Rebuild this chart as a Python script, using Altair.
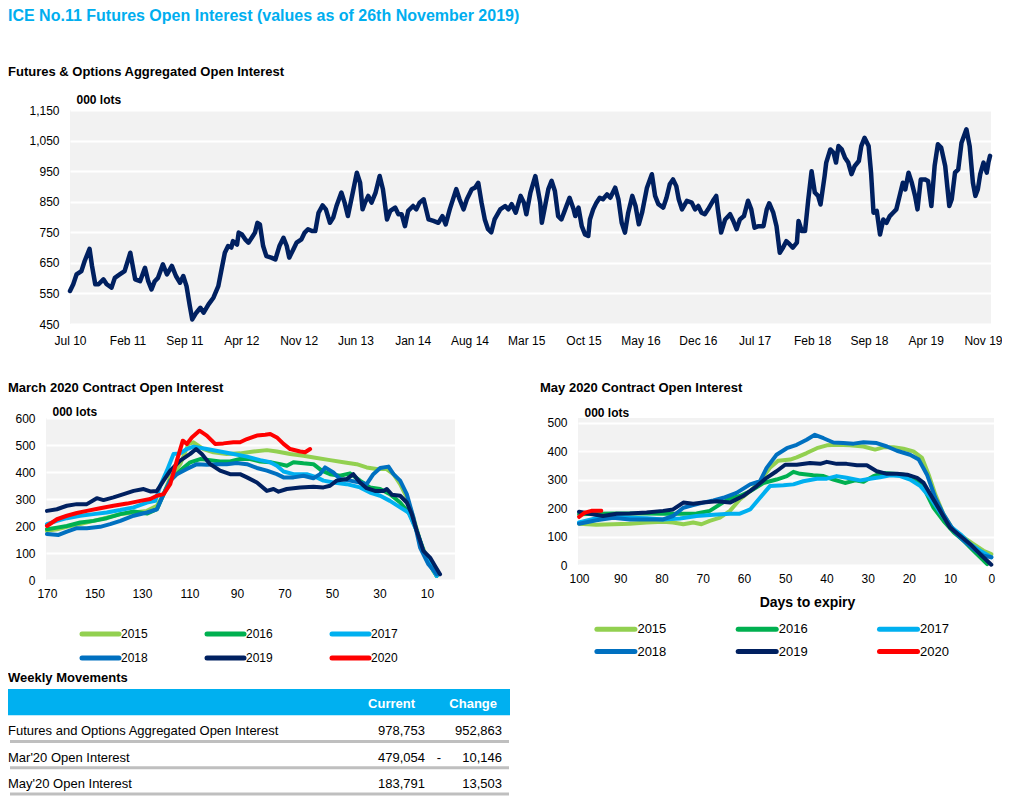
import altair as alt
import pandas as pd

FONT = "Liberation Sans"

# ---------------- Futures & Options aggregated open interest (000 lots)
# x = months since 1 Jul 2010, y = open interest
agg_month = [0.0,0.4,0.8,1.4,1.8,2.4,2.7,3.1,3.5,4.1,4.5,5.1,5.5,6.1,6.7,7.4,8.0,8.6,9.2,9.6,
             10.0,10.4,10.8,11.4,11.9,12.5,13.0,13.5,13.9,14.3,14.7,15.0,15.5,16.0,16.4,17.0,17.6,18.2,18.6,19.0,
             19.4,19.8,20.0,20.5,20.7,21.1,21.5,21.9,22.3,22.7,23.0,23.3,23.7,24.1,24.7,25.2,25.7,26.2,26.6,26.9,
             27.4,27.8,28.4,28.8,29.2,29.7,30.1,30.5,31.0,31.4,31.9,32.3,32.7,33.3,33.7,34.1,34.7,35.2,35.6,35.9,
             36.2,36.6,37.0,37.5,38.0,38.4,38.9,39.3,39.9,40.3,40.7,41.1,41.5,42.1,42.5,42.9,43.4,44.0,44.6,45.2,
             45.7,46.1,46.6,47.4,47.8,48.3,48.7,49.3,49.7,50.1,50.5,50.9,51.3,51.7,52.1,52.8,53.4,53.8,54.2,54.7,
             55.3,55.7,56.0,56.5,57.1,57.4,57.7,57.9,58.3,58.7,59.1,59.5,59.9,60.3,60.7,61.3,61.8,62.0,62.4,62.8,
             63.2,63.6,63.8,64.2,64.6,65.0,65.4,65.9,66.3,66.9,67.3,67.7,68.1,68.5,69.0,69.4,69.8,70.2,70.8,71.4,
             71.8,72.2,72.8,73.2,73.6,74.0,74.4,74.7,75.1,75.7,76.3,76.7,77.1,77.5,77.9,78.3,78.9,79.3,79.5,79.9,
             80.4,81.0,81.4,81.8,82.2,82.7,83.2,83.6,84.0,84.5,85.1,85.5,85.8,86.3,86.7,87.1,87.5,87.9,88.3,88.7,
             89.2,89.4,89.8,90.2,90.6,91.0,91.4,91.8,92.1,92.6,92.8,93.3,93.7,94.0,94.3,94.7,95.1,95.5,95.9,96.3,
             96.8,97.1,97.5,98.0,98.3,98.6,99.0,99.4,99.8,100.2,100.6,101.0,101.4,101.8,102.2,102.5,102.9,103.3,103.7,104.0,
             104.4,104.9,105.3,105.7,106.1,106.5,106.9,107.4,107.9,108.2,108.6,109.0,109.4,110.0,110.4,110.8,111.1,111.4,111.7,112.1,
             112.5,112.7,112.9]
agg_value = [558,580,612,623,656,696,640,580,580,596,580,569,601,612,623,683,596,590,634,590,
             563,590,601,645,612,640,607,585,607,574,509,465,487,503,487,514,536,574,629,683,
             705,700,721,710,749,743,727,716,732,749,781,776,705,672,667,661,705,732,705,667,
             694,716,727,749,760,754,754,814,838,825,781,798,836,880,847,803,880,945,912,825,
             847,869,847,880,934,891,792,820,831,809,809,770,820,836,825,847,858,792,787,781,
             803,776,825,891,858,825,858,891,896,912,847,792,760,750,792,825,836,825,842,814,
             869,847,809,880,934,891,847,781,836,891,918,885,803,792,820,863,825,803,831,770,
             743,738,792,825,847,863,858,874,863,896,858,781,749,814,869,836,776,814,896,940,
             869,842,831,863,907,923,901,858,825,853,847,825,836,814,809,825,853,869,825,749,
             792,809,787,760,792,803,853,825,765,770,770,825,845,814,770,683,700,721,711,700,
             716,787,754,754,858,950,880,869,841,934,978,1021,1010,978,1032,1021,994,978,940,967,
             983,1032,1059,1032,945,814,820,743,792,781,803,814,825,869,912,890,945,912,869,825,
             923,923,918,836,967,1038,1027,967,836,858,945,956,1043,1087,1032,912,869,890,940,978,
             945,978,1000]
agg_tick_months = [(2010, 7), (2011, 2), (2011, 9), (2012, 4), (2012, 11), (2013, 6), (2014, 1),
                   (2014, 8), (2015, 3), (2015, 10), (2016, 5), (2016, 12), (2017, 7), (2018, 2),
                   (2018, 9), (2019, 4), (2019, 11)]
agg_y_ticks = [450, 550, 650, 750, 850, 950, 1050, 1150]

# ---------------- contract open interest by year (000 lots) vs days to expiry
years = ["2015", "2016", "2017", "2018", "2019", "2020"]
year_colors = ["#92D050", "#00B050", "#00B0F0", "#0070C0", "#002060", "#FF0000"]

mar_days = {
    "2015": [170,165.8,161.6,156,150.4,144.8,139.1,133.5,127.9,123.7,120.9,118.1,113.9,110.4,108.3,104.1,99.9,94.3,88.7,83,
             77.4,73.2,67.6,62,56.4,50.8,45.2,39.6,35.4,31.2,27,24.1,21.3,18.5,15.7,12.9,10.1,7.3,5.9],
    "2016": [170,165.8,161.6,156,150.4,144.8,139.1,133.5,127.9,123.7,120.9,118.1,113.9,109.7,105.5,101.3,97.1,92.9,88.7,84.5,
             80.2,76,71.8,69,66.2,62,57.8,54.3,50.8,46.6,42.4,38.2,34,29.7,25.6,21.3,17.2,14.3,11.5,8.7,5.9],
    "2017": [170,165.8,161.6,156,150.4,144.8,139.1,133.5,127.9,124.4,122.3,119.5,116.7,113.9,111.1,108.3,102.7,97.1,91.5,85.8,
             80.2,76,73.2,70.4,66.2,60.6,56.4,53.6,49.4,43.8,38.2,34,29.7,25.6,21.3,17.8,14.3,11.5,8.7,5.9],
    "2018": [170,165.1,161.6,157.4,153.2,147.6,143.4,139.1,133.5,127.9,123.7,120.9,118.1,115.3,111.1,106.9,102.7,98.5,94.3,90.1,
             85.8,81.6,77.4,73.2,70.4,66.2,62,57.8,55,52.9,49.4,46.6,42.4,38.2,35.4,32.6,29.7,26.2,24.1,21.3,
             18.5,15.7,12.9,9.4,5.9],
    "2019": [170,165.8,161.6,157.4,153.2,149,146.2,142,137.7,133.5,129.3,126.5,123.7,120.9,118.1,113.9,109.7,107.2,104.8,101.3,
             97.1,92.9,88.7,85.8,81.6,77.4,74.6,72.5,69,63.4,57.8,53.6,50.8,48,43.8,41,38.2,35.4,31.9,28.3,
             26.9,24.8,21.3,18.5,16.4,14.3,11.5,8.7,6.6,4.5],
    "2020": [170,165.8,161.6,157.4,153.2,147.6,142,136.3,130.7,126.5,123.7,120.9,118.1,115.3,112.8,111.1,109,105.8,102.7,99.2,
             95.7,91.5,88.7,85.8,81.6,78.1,76,73.2,70.4,67.6,63.4,61.3,59.2],
}
mar_oi = {
    "2015": [182,188,197,207,219,231,244,250,256,275,318,380,429,504,510,485,473,467,469,476,
             481,476,467,460,452,444,436,429,417,411,411,392,355,306,231,145,83,33,15],
    "2016": [188,194,200,213,219,229,244,254,246,262,318,368,405,436,448,444,439,439,448,448,
             439,436,429,423,436,432,429,405,392,386,395,368,343,337,318,287,244,182,108,58,15],
    "2017": [207,219,229,238,244,250,259,269,287,293,349,405,467,469,485,494,485,476,467,457,
             444,436,423,402,392,392,380,368,361,355,343,324,312,293,269,250,182,108,58,15],
    "2018": [170,167,179,192,192,197,207,219,238,250,262,318,368,392,411,429,427,429,429,433,
             429,415,405,392,380,380,386,377,392,417,398,374,368,361,355,392,415,420,392,368,
             318,231,120,58,21],
    "2019": [256,262,275,281,281,303,296,306,318,330,337,328,330,368,405,442,467,485,467,429,
             405,392,392,380,361,330,337,327,337,343,345,343,349,368,374,392,361,340,330,330,
             337,316,312,287,244,182,108,83,52,21],
    "2020": [200,225,238,248,256,266,275,283,293,300,312,318,355,442,516,504,528,553,535,504,
             506,510,510,522,535,538,541,528,504,485,476,473,485],
}
may_days = {
    "2015": [100,95.8,91.7,87.7,83.6,79.6,77.2,74.7,72.3,70.3,68.3,65.8,63.4,61,58.5,56.1,53.7,51.7,48.8,47.2,
             44.8,42.3,39.9,37.5,34.3,31,28.2,26.2,23.7,21.3,18.9,16.8,15.2,13.6,11.6,9.1,6.7,4.3,1.9,0],
    "2016": [100,95.8,91.7,87.7,83.6,79.6,75.5,71.5,68.3,65.8,63.4,61,58.5,55.3,52.1,49.6,48,46.4,43.2,40.7,
             38.3,35.5,33,31,28.6,26.2,23.7,21.3,18.9,16.4,14,11.6,9.1,6.7,4.3,1],
    "2017": [100,95.8,91.7,87.7,83.6,79.6,75.5,71.5,67.4,63.4,61,58.5,56.1,53.7,50.4,48,45.6,42.3,39.9,37.5,
             35.1,31.8,29.4,27,24.5,22.1,19.7,17.2,14.8,12.4,10,7.5,5.1,2.7,0],
    "2018": [100,95.8,91.7,87.7,83.6,79.6,77.2,74.7,72.3,69.9,67.4,65,61.8,58.5,56.1,54.5,52.1,49.6,47.2,44.8,
             42.8,40.7,38.3,35.9,33.4,31,27.8,25.3,22.9,19.7,17.6,15.6,13.6,11.6,9.1,6.7,4.3,1.9,0],
    "2019": [100,97.4,94.2,90.9,87.7,83.6,79.6,77.2,74.7,72.3,69.9,66.6,63.4,60.2,56.9,54.5,52.1,50,47.2,44,
             41.5,39.9,37.5,35.1,32.6,30.2,27.8,25.3,22.9,20.4,18,16.4,14.8,12.4,10,7.5,5.1,2.7,0],
    "2020": [100,98.6,97,94.6],
}
may_oi = {
    "2015": [145,141,143,145,149,152,149,143,149,143,155,166,190,230,259,294,341,366,370,378,
             393,410,420,422,420,416,405,413,413,408,399,376,317,248,178,120,97,73,50,38],
    "2016": [178,180,181,181,181,180,180,181,190,213,234,242,259,288,300,312,327,320,315,312,
             300,288,297,292,312,323,320,317,306,271,201,155,114,85,50,3],
    "2017": [149,164,169,166,164,160,163,172,176,180,180,195,236,277,280,283,294,303,303,312,
             306,297,303,308,315,312,300,277,236,184,137,108,73,50,27],
    "2018": [145,157,166,160,160,160,172,201,210,219,227,236,253,283,294,341,387,410,422,440,
             457,445,430,428,426,431,428,416,401,387,370,317,236,178,120,85,56,33,27],
    "2019": [187,180,172,180,181,184,190,195,219,215,219,224,219,242,277,306,329,352,352,358,
             355,362,355,355,350,350,329,320,320,317,306,288,248,190,131,102,73,38,1],
    "2020": [169,184,190,190],
}
mar_ticks = [170, 150, 130, 110, 90, 70, 50, 30, 10]
mar_y_ticks = [0, 100, 200, 300, 400, 500, 600]
may_ticks = [100, 90, 80, 70, 60, 50, 40, 30, 20, 10, 0]
may_y_ticks = [0, 100, 200, 300, 400, 500]

legend_col = [0, 1, 2, 0, 1, 2]
legend_row = [0, 0, 0, 1, 1, 1]

# ---------------- weekly movements table
tbl_rows = ["r1", "r2", "r3"]
tbl_labels = ["Futures and Options Aggregated Open Interest", "Mar'20 Open Interest", "May'20 Open Interest"]
tbl_current = ["978,753", "479,054", "183,791"]
tbl_sign = ["", "-", ""]
tbl_change = ["952,863", "10,146", "13,503"]

# ======================================================================
start = pd.Timestamp("2010-07-01")
agg_df = pd.DataFrame({
    "date": [start + pd.Timedelta(days=m * 30.4375) for m in agg_month],
    "oi": agg_value,
})

plot_view = alt.ViewBackground(fill="#F2F2F2", strokeWidth=0)
blank_view = alt.ViewBackground(fillOpacity=0, strokeWidth=0)


def spacer(w):
    return alt.Chart(pd.DataFrame({"s": [0]})).mark_point(opacity=0, size=1).encode(
        x=alt.value(w / 2), y=alt.value(0.5)).properties(width=w, height=1, view=blank_view)


def sub_title(text, dx, offset):
    return alt.TitleParams(text, anchor="start", frame="group", dx=dx, offset=offset,
                           fontSize=13, font=FONT, fontWeight="bold", color="#000000",
                           baseline="alphabetic")


def y_axis(ticks, fmt, tx, ty):
    return alt.Axis(values=ticks, format=fmt, title="000 lots", titleAngle=0, titleAlign="left",
                    titleBaseline="alphabetic", titleX=tx, titleY=ty, titleFontSize=12,
                    titleFontWeight="bold", titleFont=FONT, titleColor="#000000",
                    grid=True, gridColor="#FFFFFF", gridWidth=2, ticks=False, domain=False,
                    labelPadding=11, labelFontSize=12, labelFont=FONT, labelColor="#000000")


top = alt.Chart(agg_df, title=sub_title("Futures & Options Aggregated Open Interest", -62, 4)).mark_line(
    color="#002060", strokeWidth=4.5, strokeJoin="round", strokeCap="round"
).encode(
    x=alt.X("date:T",
            scale=alt.Scale(domain=[alt.DateTime(year=2010, month=7, date=1),
                                    alt.DateTime(year=2019, month=12, date=1)]),
            axis=alt.Axis(values=[alt.DateTime(year=y, month=m, date=1) for y, m in agg_tick_months],
                          format="%b %y", title=None, grid=False, ticks=False, domain=False,
                          labelFlush=False, labelOverlap=False, labelPadding=11, labelFontSize=12,
                          labelFont=FONT, labelColor="#000000")),
    y=alt.Y("oi:Q", scale=alt.Scale(domain=[450, 1150], nice=False, zero=False),
            axis=y_axis(agg_y_ticks, ",.0f", 6, -7)),
).properties(width=921, height=214, view=plot_view)

color_scale = alt.Scale(domain=years, range=year_colors)


def long_df(days, oi):
    rows = []
    for y in years:
        for d, v in zip(days[y], oi[y]):
            rows.append({"year": y, "days": d, "oi": v})
    return pd.DataFrame(rows)


mar_df = long_df(mar_days, mar_oi)
may_df = long_df(may_days, may_oi)

march = alt.Chart(mar_df, title=sub_title("March 2020 Contract Open Interest", -38, 0)).mark_line(
    strokeWidth=4, strokeJoin="round", strokeCap="round"
).encode(
    x=alt.X("days:Q", scale=alt.Scale(domain=[-1.8, 170.4], reverse=True, nice=False, zero=False),
            axis=alt.Axis(values=mar_ticks, title=None, grid=False, ticks=False, domain=False,
                          labelFlush=False, labelPadding=8, labelFontSize=12, labelFont=FONT,
                          labelColor="#000000")),
    y=alt.Y("oi:Q", scale=alt.Scale(domain=[0, 600], nice=False),
            axis=y_axis(mar_y_ticks, "d", 6, -3)),
    color=alt.Color("year:N", scale=color_scale, legend=None),
).properties(width=409, height=162, view=plot_view)

may = alt.Chart(may_df, title=sub_title("May 2020 Contract Open Interest", -38, 1)).mark_line(
    strokeWidth=4, strokeJoin="round", strokeCap="round"
).encode(
    x=alt.X("days:Q", scale=alt.Scale(domain=[-0.65, 100.25], reverse=True, nice=False, zero=False),
            axis=alt.Axis(values=may_ticks, title="Days to expiry", titleFontSize=14, titleFont=FONT,
                          titleFontWeight="bold", titleColor="#000000", titleX=229, titlePadding=11,
                          grid=False, ticks=False, domain=False, labelFlush=False, labelPadding=8,
                          labelFontSize=12, labelFont=FONT, labelColor="#000000")),
    y=alt.Y("oi:Q", scale=alt.Scale(domain=[0, 516], nice=False),
            axis=y_axis(may_y_ticks, "d", 6, -2)),
    color=alt.Color("year:N", scale=color_scale, legend=None),
).properties(width=416, height=147, view=plot_view)

legend_df = pd.DataFrame({"year": years, "col": legend_col, "row": legend_row})


def legend_chart(x0, step, width, row_h, sym_len, label_dx, font_size):
    lo = -x0 / step
    hi = lo + width / step
    base = alt.Chart(legend_df).encode(
        x=alt.X("col:Q", scale=alt.Scale(domain=[lo, hi], nice=False, zero=False), axis=None),
        y=alt.Y("row:Q", scale=alt.Scale(domain=[-0.5, 1.5], reverse=True, nice=False, zero=False), axis=None),
    )
    sym = base.mark_point(shape="M-1,0H1", filled=False, strokeWidth=5, size=sym_len ** 2,
                          opacity=1, strokeCap="round").encode(
        color=alt.Color("year:N", scale=color_scale, legend=None))
    txt = base.mark_text(align="left", baseline="middle", dx=label_dx, fontSize=font_size,
                         font=FONT, color="#000000").encode(text="year:N")
    return alt.layer(sym, txt).properties(width=width, height=row_h * 2, view=blank_view)


mar_legend = legend_chart(54.5, 125, 400, 24, 37, 20.5, 12)
may_legend = legend_chart(37.9, 141.3, 400, 22.4, 38, 21.5, 13)

# table
tbl_df = pd.DataFrame({"row": tbl_rows, "label": tbl_labels, "current": tbl_current,
                       "sign": tbl_sign, "change": tbl_change})
head_df = pd.DataFrame({"row": ["h"], "c1": ["Current"], "c2": ["Change"]})
ysc = alt.Scale(domain=["h"] + tbl_rows, paddingInner=0, paddingOuter=0)
TW = 502

header = alt.Chart(head_df).mark_rect(color="#00B0F0").encode(
    y=alt.Y("row:N", scale=ysc, axis=None), x=alt.value(0), x2=alt.value(TW))
head_c1 = alt.Chart(head_df).mark_text(align="right", baseline="middle", dy=2, fontSize=13, font=FONT,
                                       fontWeight="bold", color="#FFFFFF").encode(
    y=alt.Y("row:N", scale=ysc, axis=None, bandPosition=0.5), x=alt.value(407), text="c1:N")
head_c2 = alt.Chart(head_df).mark_text(align="right", baseline="middle", dy=2, fontSize=13, font=FONT,
                                       fontWeight="bold", color="#FFFFFF").encode(
    y=alt.Y("row:N", scale=ysc, axis=None, bandPosition=0.5), x=alt.value(489), text="c2:N")
tb = alt.Chart(tbl_df)
seps = tb.mark_rule(color="#BFBFBF", strokeWidth=3).encode(
    y=alt.Y("row:N", scale=ysc, axis=None, bandPosition=1), x=alt.value(2), x2=alt.value(TW - 1))


def col_text(field, xpos, align):
    return tb.mark_text(align=align, baseline="middle", dy=3, fontSize=13, font=FONT, color="#000000").encode(
        y=alt.Y("row:N", scale=ysc, axis=None, bandPosition=0.5), x=alt.value(xpos), text=f"{field}:N")


table = alt.layer(
    header, seps, head_c1, head_c2,
    col_text("label", 0, "left"), col_text("current", 417, "right"),
    col_text("sign", 431, "center"), col_text("change", 494, "right"),
).properties(
    width=TW, height=105, view=blank_view,
    title=alt.TitleParams("Weekly Movements", anchor="start", frame="group", offset=-6, fontSize=13,
                          font=FONT, fontWeight="bold", color="#000000", baseline="alphabetic"),
)

top_row = alt.hconcat(spacer(62), top, spacing=0, bounds="flush")
left_col = alt.vconcat(march, mar_legend, spacing=23)
right_col = alt.vconcat(may, may_legend, spacing=9)
middle_inner = alt.hconcat(left_col, right_col, spacing=85)
middle_row = alt.hconcat(spacer(38), middle_inner, spacing=0, bounds="flush")
lower = alt.vconcat(middle_row, table, spacing=2)

chart = alt.vconcat(
    top_row, lower, spacing=36,
    title=alt.TitleParams("ICE No.11 Futures Open Interest (values as of 26th November 2019)",
                          anchor="start", frame="bounds", fontSize=16, font=FONT,
                          fontWeight="bold", color="#00AEEF", offset=29, baseline="alphabetic"),
).properties(
    padding={"left": 0, "top": 0, "right": 0, "bottom": 0},
    background="#FFFFFF",
).configure_view(strokeWidth=0)

chart.save("out.html", embed_options={"renderer": "svg", "actions": False})
